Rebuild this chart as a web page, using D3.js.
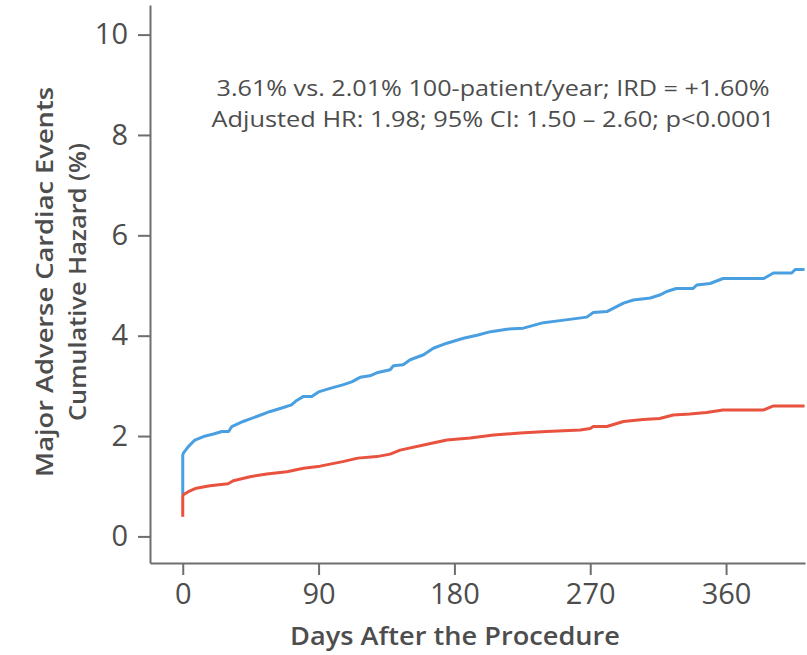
<!DOCTYPE html>
<html>
<head>
<meta charset="utf-8">
<script src="https://cdn.jsdelivr.net/npm/d3@7"></script>
<style>
  body { margin: 0; background: #fff; }
  text { font-family: 'Open Sans', 'Noto Sans', sans-serif; }
</style>
</head>
<body>
<svg id="chart" width="807" height="655"></svg>
<script>
// blue curve (higher hazard group)
var blueDays = [0, 0, 0.4, 3.7, 8, 13.7, 20.4, 25.9, 30.4, 32.5, 40, 49, 58, 66.7, 72, 75.5, 80, 85.5, 90, 97.6, 106, 112, 117.5, 124, 128.6, 137.4, 139.6, 146, 150.7, 159.6, 166, 175, 186, 195, 204, 214.8, 225.7, 239, 250, 267.7, 272, 281, 292, 298.6, 309.8, 316, 320.7, 327, 338, 340.6, 349.4, 358, 385, 391.4, 403.5, 405.8, 412]
var blueValues = [0.83, 1.62, 1.66, 1.79, 1.92, 1.99, 2.04, 2.09, 2.09, 2.19, 2.29, 2.39, 2.49, 2.57, 2.62, 2.71, 2.79, 2.79, 2.88, 2.95, 3.02, 3.08, 3.17, 3.2, 3.26, 3.32, 3.40, 3.42, 3.52, 3.62, 3.75, 3.85, 3.95, 4.01, 4.08, 4.13, 4.15, 4.26, 4.30, 4.37, 4.46, 4.48, 4.65, 4.71, 4.75, 4.81, 4.88, 4.94, 4.94, 5.01, 5.04, 5.14, 5.14, 5.25, 5.25, 5.32, 5.32]

// red curve (lower hazard group)
var redDays = [0, 0, 0.4, 3.7, 9, 18, 30, 33.5, 44.6, 55.7, 69, 80, 91, 106, 116, 128.6, 137.4, 144, 159.6, 175, 190.4, 206, 223.5, 241, 263.4, 270, 272, 281, 292, 305, 316, 325, 336, 347, 358, 385, 391.4, 412]
var redValues = [0.39, 0.81, 0.83, 0.89, 0.96, 1.01, 1.05, 1.11, 1.19, 1.245, 1.29, 1.36, 1.40, 1.49, 1.56, 1.59, 1.64, 1.72, 1.82, 1.92, 1.96, 2.02, 2.06, 2.09, 2.12, 2.15, 2.19, 2.19, 2.29, 2.33, 2.35, 2.42, 2.44, 2.47, 2.52, 2.52, 2.60, 2.60]

var xTicks = [0, 90, 180, 270, 360]
var yTicks = [0, 2, 4, 6, 8, 10]

var annotationLines = [
  '3.61% vs. 2.01% 100-patient/year; IRD = +1.60%',
  'Adjusted HR: 1.98; 95% CI: 1.50 \u2013 2.60; p<0.0001'
]
var yLabelLines = ['Major Adverse Cardiac Events', 'Cumulative Hazard (%)']
var xLabel = 'Days After the Procedure'

var svg = d3.select('#chart')
var plot = { left: 150, right: 805, top: 5, bottom: 563 }

var x = d3.scaleLinear().domain([-21.7, 412.3]).range([plot.left, plot.right])
var y = d3.scaleLinear().domain([-0.53, 10.59]).range([plot.bottom, plot.top])

var axisColor = '#6e6e6e'
var textColor = '#4d4d4d'

var gx = svg.append('g')
  .attr('transform', 'translate(0,' + plot.bottom + ')')
  .call(d3.axisBottom(x).tickValues(xTicks).tickSize(12).tickPadding(8).tickSizeOuter(0))
var gy = svg.append('g')
  .attr('transform', 'translate(' + plot.left + ',0)')
  .call(d3.axisLeft(y).tickValues(yTicks).tickSize(12).tickPadding(10).tickSizeOuter(0))

;[gx, gy].forEach(function(g) {
  g.select('.domain').attr('stroke', axisColor).attr('stroke-width', 2)
  g.selectAll('.tick line').attr('stroke', axisColor).attr('stroke-width', 2)
  g.selectAll('.tick text')
    .attr('fill', textColor)
    .style('font-size', '29px')
})

function series(days, values) {
  return days.map(function(d, i) { return [d, values[i]] })
}

var line = d3.line()
  .x(function(d) { return x(d[0]) })
  .y(function(d) { return y(d[1]) })

svg.append('path')
  .datum(series(blueDays, blueValues))
  .attr('fill', 'none')
  .attr('stroke', '#4a9fe0')
  .attr('stroke-width', 3)
  .attr('stroke-linejoin', 'round')
  .attr('d', line)

svg.append('path')
  .datum(series(redDays, redValues))
  .attr('fill', 'none')
  .attr('stroke', '#e8523f')
  .attr('stroke-width', 3)
  .attr('stroke-linejoin', 'round')
  .attr('d', line)

svg.selectAll('.annot')
  .data(annotationLines)
  .enter()
  .append('text')
  .attr('class', 'annot')
  .attr('x', 493)
  .attr('y', function(d, i) { return 96 + i * 31 })
  .attr('text-anchor', 'middle')
  .attr('fill', textColor)
  .style('font-size', '22px')
  .attr('textLength', function(d, i) { return i === 0 ? 553 : 563 })
  .attr('lengthAdjust', 'spacingAndGlyphs')
  .text(function(d) { return d })

svg.append('text')
  .attr('x', 455)
  .attr('y', 645)
  .attr('text-anchor', 'middle')
  .attr('fill', textColor)
  .style('font-size', '25px')
  .style('font-weight', 600)
  .attr('textLength', 330)
  .attr('lengthAdjust', 'spacingAndGlyphs')
  .text(xLabel)

svg.selectAll('.ylab')
  .data(yLabelLines)
  .enter()
  .append('text')
  .attr('class', 'ylab')
  .attr('transform', function(d, i) { return 'translate(' + (53 + i * 33) + ',282) rotate(-90)' })
  .attr('text-anchor', 'middle')
  .attr('fill', textColor)
  .style('font-size', '24px')
  .style('font-weight', 600)
  .attr('textLength', function(d, i) { return i === 0 ? 390 : 278 })
  .attr('lengthAdjust', 'spacingAndGlyphs')
  .text(function(d) { return d })
</script>
</body>
</html>
